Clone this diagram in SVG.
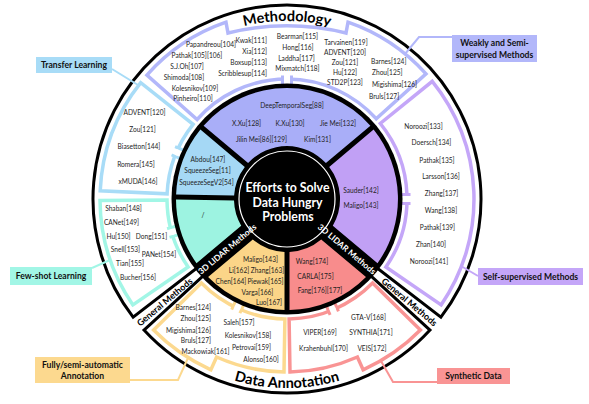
<svg xmlns="http://www.w3.org/2000/svg" width="589" height="404" viewBox="0 0 589 404">
<style>
text{font-family:Lato,'Liberation Sans','DejaVu Sans',sans-serif}
.t{font-size:6.6px;fill:#1e1e1e;text-anchor:middle}
.ts{text-anchor:start}
.te{text-anchor:end}
.bx{font-size:8.6px;font-weight:bold;fill:#111;text-anchor:middle}
.blk{fill:#fff;stroke:#000;stroke-width:3;stroke-linejoin:miter}
.rg{fill:#fff;stroke-width:3.5}
.cn{fill:none;stroke-width:2}
.tab{fill:#fff;stroke-width:3}
.er{fill:#fff}
.band{font-size:8.4px;font-weight:bold;fill:#fff;text-anchor:middle;dominant-baseline:central}
.gm{font-size:9px;font-weight:bold;fill:#000;text-anchor:middle;dominant-baseline:central}
.ttl{font-size:14.5px;font-weight:bold;fill:#000;text-anchor:middle}
.ctr{font-size:12.3px;font-weight:bold;fill:#fff;text-anchor:middle}
</style>
<defs>
<path id="arcTop" d="M150.6,84.6 A178,178 0 0,1 423.4,84.6"/>
<path id="arcBot" d="M142.2,320.5 A189,189 0 0,0 431.8,320.5"/>
</defs>

<g id="frame">
<path class="blk" d="M133.1,317.1 A194,194 0 1,1 440.9,317.1 L376.7,267.8 A113,113 0 1,0 197.3,267.8 Z"/>
<path class="blk" d="M430.0,330.1 A194,194 0 0,1 144.0,330.1 L203.7,275.3 A113,113 0 0,0 370.3,275.3 Z"/>
<text class="ttl"><textPath href="#arcTop" startOffset="50%">Methodology</textPath></text>
<text class="ttl"><textPath href="#arcBot" startOffset="50%">Data Annotation</textPath></text>
<text class="gm" transform="translate(164.4,301.8) rotate(-40)">General Methods</text>
<text class="gm" transform="translate(409.6,301.8) rotate(40)">General Methods</text>
</g>

<g id="connectors">
<path class="cn" stroke="#a8dcf7" d="M112,69 L138,85"/>
<path class="cn" stroke="#b2b7fa" d="M405,54 L419,37 L452,37"/>
<path class="cn" stroke="#c4a6f8" d="M461,266 L478,276"/>
<path class="cn" stroke="#a2f6e6" d="M92,268 L110,260"/>
<path class="cn" stroke="#fcd98f" d="M130,380 L178,380 L188,358"/>
<path class="cn" stroke="#f99494" d="M381,361 L393,382 L437,382"/>
</g>

<g id="transfer-learning">
<path class="rg" stroke="#a8dcf7" d="M100.2,190.8 A187,187 0 0,1 140.7,82.6 L193.1,124.3 A120,120 0 0,0 167.1,193.8 Z"/>
<g transform="rotate(203 287 199)"><rect class="tab" stroke="#a8dcf7" x="399" y="194.5" width="10" height="9"/><rect class="er" x="405" y="196" width="7" height="6"/></g>
<text class="t" x="144.5" y="115.4">ADVENT[120]</text>
<text class="t" x="142.5" y="132.4">Zou[121]</text>
<text class="t" x="139" y="149.4">Biasetton[144]</text>
<text class="t" x="136" y="167.4">Romera[145]</text>
<text class="t" x="138" y="184.4">xMUDA[146]</text>
<rect x="36" y="57" width="76" height="16" fill="#a8dcf7"/>
<text class="bx" x="74" y="68">Transfer Learning</text>
</g>

<g id="weakly-semi-supervised">
<path class="rg" stroke="#b2b7fa" d="M146.9,75.1 A187,187 0 0,1 226,22.2 L228,33 A250,250 0 0,1 346,33 L348,22.2 A187,187 0 0,1 426.0,73.9 L376.2,118.7 A120,120 0 0,0 197.1,119.5 Z"/>
<g transform="rotate(270 287 199)"><rect class="tab" stroke="#b2b7fa" x="399" y="194.5" width="10" height="9"/><rect class="er" x="405" y="196" width="7" height="6"/></g>
<text class="t" x="211" y="47.4">Papandreou[104]</text>
<text class="t" x="197" y="58.4">Pathak[105][106]</text>
<text class="t" x="187" y="69.4">S.J.Oh[107]</text>
<text class="t" x="184" y="80.4">Shimoda[108]</text>
<text class="t" x="195" y="91.4">Kolesnikov[109]</text>
<text class="t" x="193" y="101.4">Pinheiro[110]</text>
<text class="t te" x="267" y="43.4">Kwak[111]</text>
<text class="t te" x="267" y="54.4">Xia[112]</text>
<text class="t te" x="267" y="65.4">Boxsup[113]</text>
<text class="t te" x="267" y="76.4">Scribblesup[114]</text>
<text class="t" x="297.5" y="39.4">Bearman[115]</text>
<text class="t" x="298" y="50.4">Hong[116]</text>
<text class="t" x="296.5" y="61.4">Laddha[117]</text>
<text class="t" x="297.5" y="71.4">Mixmatch[118]</text>
<text class="t" x="346" y="45.4">Tarvainen[119]</text>
<text class="t" x="345" y="55.4">ADVENT[120]</text>
<text class="t" x="345" y="65.4">Zou[121]</text>
<text class="t" x="345" y="75.4">Hu[122]</text>
<text class="t" x="345" y="85.4">STD2P[123]</text>
<text class="t ts" x="371" y="64.4">Barnes[124]</text>
<text class="t ts" x="372" y="75.4">Zhou[125]</text>
<text class="t ts" x="372" y="87.4">Migishima[126]</text>
<text class="t ts" x="369" y="99.4">Bruls[127]</text>
<rect x="452" y="35" width="85" height="27" fill="#b2b7fa"/>
<text class="bx" x="494.5" y="46">Weakly and Semi-</text>
<text class="bx" x="494.5" y="57.5">supervised Methods</text>
</g>

<g id="self-supervised">
<path class="rg" stroke="#c4a6f8" d="M432.3,81.3 A187,187 0 0,1 441.1,304.9 L385.9,267.0 A120,120 0 0,0 380.3,123.5 Z"/>
<g transform="rotate(0 287 199)"><rect class="tab" stroke="#c4a6f8" x="399" y="194.5" width="10" height="9"/><rect class="er" x="405" y="196" width="7" height="6"/></g>
<text class="t" x="423.5" y="129.4">Noroozi[133]</text>
<text class="t" x="431.5" y="145.4">Doersch[134]</text>
<text class="t" x="437" y="163.4">Pathak[135]</text>
<text class="t" x="441" y="179.4">Larsson[136]</text>
<text class="t" x="441.5" y="196.4">Zhang[137]</text>
<text class="t" x="441" y="213.4">Wang[138]</text>
<text class="t" x="437.5" y="230.4">Pathak[139]</text>
<text class="t" x="431" y="247.4">Zhan[140]</text>
<text class="t" x="429" y="264.4">Noroozi[141]</text>
<rect x="478" y="268" width="105" height="17" fill="#c4a6f8"/>
<text class="bx" x="530.5" y="279.5">Self-supervised Methods</text>
</g>

<g id="few-shot-learning">
<path class="rg" stroke="#a2f6e6" d="M132.9,304.9 A187,187 0 0,1 100.0,200.6 L167.0,200.0 A120,120 0 0,0 188.1,267.0 Z"/>
<g transform="rotate(164 287 199)"><rect class="tab" stroke="#a2f6e6" x="399" y="194.5" width="10" height="9"/><rect class="er" x="405" y="196" width="7" height="6"/></g>
<text class="t" x="123.5" y="211.4">Shaban[148]</text>
<text class="t" x="121.5" y="225.4">CANet[149]</text>
<text class="t" x="118.5" y="239.4">Hu[150]</text>
<text class="t" x="151.5" y="239.4">Dong[151]</text>
<text class="t" x="125.5" y="252.4">Snell[153]</text>
<text class="t" x="159" y="257.4">PANet[154]</text>
<text class="t" x="130" y="266.4">Tian[155]</text>
<text class="t" x="138" y="280.4">Bucher[156]</text>
<rect x="10" y="267" width="82" height="18" fill="#a2f6e6"/>
<text class="bx" x="51" y="279">Few-shot Learning</text>
</g>

<g id="fully-semi-automatic-annotation">
<path class="rg" stroke="#fcd98f" d="M153.6,330.1 A187,187 0 0,0 210.9,369.8 L216.6,357.0 A173,173 0 0,0 284.0,372.0 L284.9,319.0 A120,120 0 0,1 201.4,283.1 Z"/>
<g transform="rotate(114.5 287 199)"><rect class="tab" stroke="#fcd98f" x="399" y="194.5" width="10" height="9"/><rect class="er" x="405" y="196" width="7" height="6"/></g>
<text class="t te" x="211" y="310.4">Barnes[124]</text>
<text class="t te" x="211" y="321.4">Zhou[125]</text>
<text class="t te" x="211" y="333.4">Migishima[126]</text>
<text class="t te" x="211" y="343.4">Bruls[127]</text>
<text class="t" x="205.5" y="354.4">Mackowiak[161]</text>
<text class="t" x="239" y="325.4">Saleh[157]</text>
<text class="t" x="248" y="338.4">Kolesnikov[158]</text>
<text class="t" x="251.5" y="350.4">Petrovai[159]</text>
<text class="t" x="261" y="362.4">Alonso[160]</text>
<rect x="35" y="357" width="95" height="26" fill="#fcd98f"/>
<text class="bx" x="82.5" y="367.5">Fully/semi-automatic</text>
<text class="bx" x="82.5" y="379">Annotation</text>
</g>

<g id="synthetic-data">
<path class="rg" stroke="#f99494" d="M420.4,330.1 A187,187 0 0,1 363.1,369.8 L357.4,357.0 A173,173 0 0,1 290.0,372.0 L289.1,319.0 A120,120 0 0,0 372.6,283.1 Z"/>
<g transform="rotate(67.5 287 199)"><rect class="tab" stroke="#f99494" x="399" y="194.5" width="10" height="9"/><rect class="er" x="405" y="196" width="7" height="6"/></g>
<text class="t" x="368.5" y="320.4">GTA-V[168]</text>
<text class="t" x="320" y="335.4">VIPER[169]</text>
<text class="t" x="371" y="335.4">SYNTHIA[171]</text>
<text class="t" x="323.5" y="351.4">Krahenbuhl[170]</text>
<text class="t" x="372" y="351.4">VEIS[172]</text>
<rect x="437" y="368" width="73" height="16" fill="#f99494"/>
<text class="bx" x="473.5" y="379">Synthetic Data</text>
</g>

<g id="lidar-ring">
<circle cx="287" cy="199" r="115.5" fill="#000"/>
<g id="lidar-weakly">
<path fill="#a9aef8" d="M203.6,125.8 A111,111 0 0,1 370.4,125.8 L325.9,163.1 A53,53 0 0,0 248.1,163.1 Z"/>
<text class="t" x="292" y="108.4">DeepTemporalSeg[88]</text>
<text class="t" x="246.5" y="126.4">X.Xu[128]</text>
<text class="t" x="290" y="126.4">K.Xu[130]</text>
<text class="t" x="338" y="126.4">Jie Mei[132]</text>
<text class="t" x="261.5" y="142.4">Jilin Mei[86][129]</text>
<text class="t" x="317.5" y="142.4">Kim[131]</text>
</g>
<g id="lidar-transfer">
<path fill="#a5d8f5" d="M176.1,194.6 A111,111 0 0,1 200.4,129.6 L244.8,166.9 A53,53 0 0,0 234.1,195.6 Z"/>
<text class="t" x="208" y="162.4">Abdou[147]</text>
<text class="t" x="207.5" y="173.4">SqueezeSeg[11]</text>
<text class="t" x="206.5" y="185.4">SqueezeSegV2[54]</text>
</g>
<g id="lidar-fewshot">
<path fill="#9df3e1" d="M196.5,263.2 A111,111 0 0,1 176.0,199.6 L234.0,200.6 A53,53 0 0,0 241.2,225.7 Z"/>
<text class="t" x="203" y="218.4">/</text>
</g>
<g id="lidar-self">
<path fill="#c1a0f5" d="M373.6,129.6 A111,111 0 0,1 377.5,263.2 L332.8,225.7 A53,53 0 0,0 329.2,166.9 Z"/>
<text class="t" x="361" y="193.4">Sauder[142]</text>
<text class="t" x="361" y="208.4">Maligo[143]</text>
</g>
<g id="lidar-annotation">
<path fill="#fbd588" d="M284.5,310.0 A111,111 0 0,1 208.1,277.0 L252.8,239.5 A53,53 0 0,0 284.5,251.9 Z"/>
<text class="t" x="260.5" y="262.4">Maligo[143]</text>
<text class="t" x="239" y="273.4">Li[162]</text>
<text class="t" x="267.5" y="273.4">Zhang[163]</text>
<text class="t" x="231" y="284.4">Chen[164]</text>
<text class="t" x="265.5" y="284.4">Piewak[165]</text>
<text class="t" x="257.5" y="295.4">Varga[166]</text>
<text class="t" x="269" y="305.4">Luo[167]</text>
</g>
<g id="lidar-synthetic">
<path fill="#f88c8c" d="M366.0,277.0 A111,111 0 0,1 289.5,310.0 L289.5,251.9 A53,53 0 0,0 321.2,239.5 Z"/>
<text class="t" x="312" y="264.4">Wang[174]</text>
<text class="t" x="315.5" y="279.4">CARLA[175]</text>
<text class="t" x="320" y="293.4">Fang[176][177]</text>
</g>
<text class="band" transform="translate(227.2,249.1) rotate(-40)">3D LIDAR Methods</text>
<text class="band" transform="translate(346.8,249.1) rotate(40)">3D LIDAR Methods</text>
</g>

<g id="center">
<circle cx="287" cy="199" r="48" fill="none" stroke="#fff" stroke-width="1.2"/>
<text class="ctr" x="287.5" y="192.2">Efforts to Solve</text>
<text class="ctr" x="287.5" y="207.2">Data Hungry</text>
<text class="ctr" x="288" y="221.2">Problems</text>
</g>
</svg>
